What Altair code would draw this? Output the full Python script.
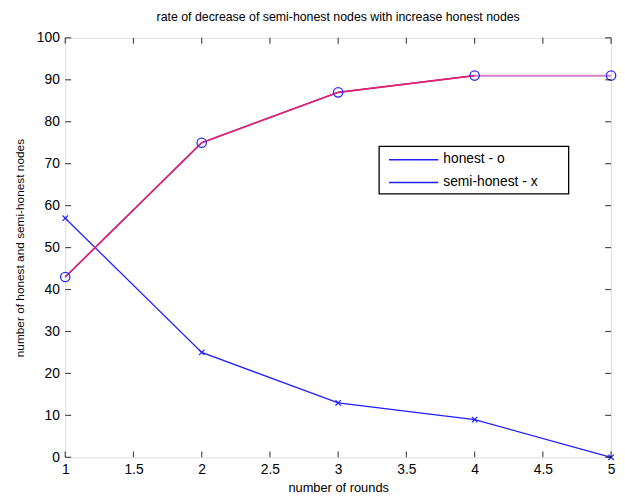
import altair as alt
import pandas as pd

rounds = [1, 2, 3, 4, 5]
honest = [43, 75, 87, 91, 91]
semi_honest = [57, 25, 13, 9, 0]
series_names = ["honest - o", "semi-honest - x"]
x_ticks = [1, 1.5, 2, 2.5, 3, 3.5, 4, 4.5, 5]
y_ticks = [0, 10, 20, 30, 40, 50, 60, 70, 80, 90, 100]

W, H = 553, 425
FONT = "Liberation Sans"
BLUE = "#2020ff"

hon = pd.DataFrame({"x": rounds, "y": honest})
semi = pd.DataFrame({"x": rounds, "y": semi_honest})
hon_red = hon.iloc[:4]
hon_pink = hon.iloc[3:]

xs = alt.Scale(domain=[1, 5], nice=False, zero=False)
ys = alt.Scale(domain=[0, 100], nice=False)

X = alt.X("x:Q", scale=xs, axis=alt.Axis(values=x_ticks, format="~g", title="number of rounds",
          ticks=False, domain=False, grid=False, labelFontSize=14, titleFontSize=13,
          titleFontWeight="normal", labelColor="black", titleColor="black",
          labelPadding=5, titlePadding=6, labelFlush=False, labelFont=FONT, titleFont=FONT))
Y = alt.Y("y:Q", scale=ys, axis=alt.Axis(values=y_ticks,
          title="number of honest and semi-honest nodes", ticks=False, domain=False,
          grid=False, labelFontSize=14, titleFontSize=12, titleFontWeight="normal",
          labelColor="black", titleColor="black", labelPadding=6, titlePadding=10,
          labelFont=FONT, titleFont=FONT))

blue_hon = alt.Chart(hon).mark_line(color=BLUE, strokeWidth=1.3).encode(x=X, y=Y)
blue_semi = alt.Chart(semi).mark_line(color=BLUE, strokeWidth=1.3).encode(x="x:Q", y="y:Q")
red_line = alt.Chart(hon_red).mark_line(color="#e8206a", strokeWidth=1.6).encode(x="x:Q", y="y:Q")
pink_line = alt.Chart(hon_pink).mark_line(color="#e080c4", strokeWidth=1.8).encode(x="x:Q", y="y:Q")

circles = alt.Chart(hon).mark_point(shape="circle", size=90, color="#2a2aff", strokeWidth=1.3,
                                    filled=False, opacity=1).encode(x="x:Q", y="y:Q")
crosses = alt.Chart(semi).mark_point(shape="M-1,-1L1,1M1,-1L-1,1", size=30, color=BLUE,
                                     strokeWidth=1.2, filled=False, opacity=1).encode(x="x:Q", y="y:Q")

# inward ticks (MATLAB box style)
xt = pd.DataFrame({"x": x_ticks})
yt = pd.DataFrame({"y": y_ticks})
TS = 6
tick_b = alt.Chart(xt).mark_tick(color="black", size=TS, thickness=1.2, yOffset=-TS / 2).encode(
    x="x:Q", y=alt.value(H))
tick_t = alt.Chart(xt).mark_tick(color="black", size=TS, thickness=1.2, yOffset=TS / 2).encode(
    x="x:Q", y=alt.value(0))
tick_l = alt.Chart(yt).mark_tick(color="black", size=TS, thickness=1.2, xOffset=TS / 2).encode(
    y="y:Q", x=alt.value(0))
tick_r = alt.Chart(yt).mark_tick(color="black", size=TS, thickness=1.2, xOffset=-TS / 2).encode(
    y="y:Q", x=alt.value(W))

# legend box
leg = pd.DataFrame({"label": series_names})
LX0, LX1, LY0, LY1 = 318, 510, 110, 158
box = alt.Chart(pd.DataFrame({"a": [0]})).mark_rect(
    fill="white", stroke="black", strokeWidth=1.3).encode(
    x=alt.value(LX0), x2=alt.value(LX1), y=alt.value(LY0), y2=alt.value(LY1))
leg_l1 = alt.Chart(leg.iloc[:1]).mark_rule(color=BLUE, strokeWidth=1.5).encode(
    x=alt.value(328), x2=alt.value(378), y=alt.value(123.5))
leg_l2 = alt.Chart(leg.iloc[1:]).mark_rule(color=BLUE, strokeWidth=1.5).encode(
    x=alt.value(328), x2=alt.value(378), y=alt.value(146.5))
leg_t1 = alt.Chart(leg.iloc[:1]).mark_text(align="left", baseline="middle", fontSize=14,
                                           font=FONT, color="black").encode(
    x=alt.value(383), y=alt.value(123), text="label:N")
leg_t2 = alt.Chart(leg.iloc[1:]).mark_text(align="left", baseline="middle", fontSize=14,
                                           font=FONT, color="black").encode(
    x=alt.value(383), y=alt.value(146), text="label:N")

chart = alt.layer(
    blue_hon, blue_semi, red_line, pink_line, circles, crosses,
    tick_b, tick_t, tick_l, tick_r,
    box, leg_l1, leg_l2, leg_t1, leg_t2,
).properties(
    width=W, height=H,
    title=alt.Title("rate of decrease of semi-honest nodes with increase honest nodes",
                    fontSize=12.5, fontWeight="normal", font=FONT, color="black", offset=8),
    autosize=alt.AutoSizeParams(type="none"),
    padding={"left": 58, "top": 27, "right": 6, "bottom": 40},
).configure_view(stroke="black", strokeWidth=1.2).configure(background="white")

chart.save("out.html", embed_options={"renderer": "svg", "actions": False})
